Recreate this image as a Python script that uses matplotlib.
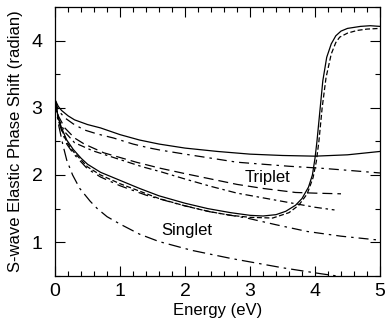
import numpy as np
import matplotlib
matplotlib.use("Agg")
import matplotlib.pyplot as plt
from matplotlib.ticker import MultipleLocator

plt.rcParams['font.family'] = ['Liberation Sans', 'DejaVu Sans']

# triplet curves
e_t1 = [0, 0.05, 0.1, 0.2, 0.3, 0.5, 0.7, 1.0, 1.3, 1.6, 2.0, 2.5, 3.0, 3.5, 4.0, 4.5, 5.0]
t1 = [3.12, 3.02, 2.96, 2.88, 2.82, 2.75, 2.70, 2.60, 2.52, 2.46, 2.40, 2.35, 2.31, 2.29, 2.28, 2.30, 2.35]

e_t2 = [0, 0.05, 0.15, 0.28, 0.45, 0.65, 0.9, 1.2, 1.46, 1.62, 2.0, 2.4, 2.8, 3.2, 3.6, 4.1, 4.5, 5.0]
t2 = [3.12, 2.96, 2.85, 2.76, 2.67, 2.61, 2.55, 2.46, 2.40, 2.37, 2.31, 2.25, 2.19, 2.16, 2.13, 2.10, 2.07, 2.03]

e_t3 = [0, 0.05, 0.15, 0.3, 0.45, 0.75, 1.25, 1.62, 2.0, 2.4, 2.8, 3.2, 3.7, 4.0, 4.4]
t3 = [3.12, 2.88, 2.70, 2.55, 2.46, 2.33, 2.19, 2.10, 2.02, 1.94, 1.86, 1.80, 1.74, 1.73, 1.72]

e_t4 = [0, 0.05, 0.15, 0.3, 0.58, 0.9, 1.35, 1.62, 2.0, 2.4, 2.8, 3.2, 3.6, 4.0, 4.3]
t4 = [3.12, 2.84, 2.64, 2.48, 2.36, 2.26, 2.12, 2.05, 1.94, 1.83, 1.73, 1.66, 1.59, 1.52, 1.48]

# singlet curves
e_s1 = [0, 0.05, 0.1, 0.18, 0.28, 0.4, 0.5, 0.7, 1.0, 1.3, 1.6, 2.0, 2.35, 2.7, 3.0, 3.2,
        3.4, 3.55, 3.7, 3.8, 3.9, 3.96, 4.0, 4.03, 4.07, 4.12, 4.18, 4.25, 4.32, 4.4, 4.5,
        4.7, 4.85, 5.0]
s1 = [3.12, 2.85, 2.70, 2.52, 2.38, 2.25, 2.16, 2.04, 1.92, 1.80, 1.69, 1.58, 1.50, 1.44, 1.40, 1.39,
      1.41, 1.46, 1.55, 1.65, 1.82, 2.00, 2.25, 2.50, 2.90, 3.40, 3.75, 3.95, 4.07, 4.14, 4.18,
      4.21, 4.22, 4.21]

e_s2 = [0, 0.05, 0.1, 0.18, 0.28, 0.5, 0.7, 1.0, 1.3, 1.6, 2.0, 2.35, 2.7, 3.0, 3.35, 3.6,
        3.75, 3.88, 3.97, 4.02, 4.06, 4.11, 4.17, 4.25, 4.32, 4.38, 4.5, 4.65, 4.8, 5.0]
s2 = [3.12, 2.83, 2.68, 2.49, 2.35, 2.12, 2.00, 1.87, 1.76, 1.65, 1.54, 1.46, 1.40, 1.37, 1.36, 1.44,
      1.55, 1.72, 1.96, 2.20, 2.50, 3.00, 3.45, 3.80, 3.97, 4.05, 4.11, 4.15, 4.17, 4.18]

e_s3 = [0, 0.05, 0.1, 0.18, 0.28, 0.5, 0.7, 1.0, 1.4, 1.92, 2.4, 2.95, 3.4, 3.88, 4.4, 5.0]
s3 = [3.12, 2.82, 2.66, 2.46, 2.32, 2.09, 1.97, 1.84, 1.70, 1.56, 1.45, 1.36, 1.26, 1.16, 1.09, 1.03]

e_s4 = [0, 0.03, 0.06, 0.12, 0.18, 0.27, 0.38, 0.54, 0.65, 0.8, 1.0, 1.3, 1.6, 2.1, 2.7, 3.1, 3.5, 4.1, 4.4]
s4 = [3.12, 2.90, 2.72, 2.45, 2.22, 2.00, 1.80, 1.61, 1.50, 1.38, 1.27, 1.12, 1.01, 0.88, 0.76, 0.69, 0.62, 0.53, 0.49]

fig = plt.figure(figsize=(3.85, 3.28), dpi=100)
ax = fig.add_axes([0.143, 0.159, 0.844, 0.820])

lw = 0.9
ax.plot(e_t1, t1, color='black', lw=lw)
ax.plot(e_t2, t2, color='black', lw=lw, dashes=(8, 4, 2, 4))
ax.plot(e_t3, t3, color='black', lw=lw, dashes=(8, 4))
ax.plot(e_t4, t4, color='black', lw=lw, dashes=(6, 3, 2, 3))
ax.plot(e_s1, s1, color='black', lw=lw)
ax.plot(e_s2, s2, color='black', lw=lw, dashes=(4, 2))
ax.plot(e_s3, s3, color='black', lw=lw, dashes=(8, 4, 2, 4))
ax.plot(e_s4, s4, color='black', lw=lw, dashes=(10, 4, 2, 4))

ax.text(3.27, 1.97, 'Triplet', fontsize=12, ha='center', va='center')
ax.text(2.02, 1.18, 'Singlet', fontsize=12, ha='center', va='center')

ax.set_xlim(0, 5)
ax.set_ylim(0.5, 4.5)
ax.xaxis.set_major_locator(MultipleLocator(1))
ax.xaxis.set_minor_locator(MultipleLocator(0.2))
ax.yaxis.set_major_locator(MultipleLocator(1))
ax.yaxis.set_minor_locator(MultipleLocator(0.5))
ax.tick_params(which='both', direction='in', top=True, right=True, width=0.8)
ax.tick_params(which='major', length=7, labelsize=14)
ax.tick_params(axis='x', which='major', pad=5)
ax.tick_params(axis='y', which='major', pad=9)
ax.tick_params(which='minor', length=3.5)
for s in ax.spines.values():
    s.set_linewidth(0.9)

ax.set_xlabel('Energy (eV)', fontsize=12)
ax.set_ylabel('S-wave Elastic Phase Shift (radian)', fontsize=12)
ax.xaxis.set_label_coords(0.5, -0.1)
ax.yaxis.set_label_coords(-0.098, 0.5)

fig.savefig('out.png', dpi=100)
